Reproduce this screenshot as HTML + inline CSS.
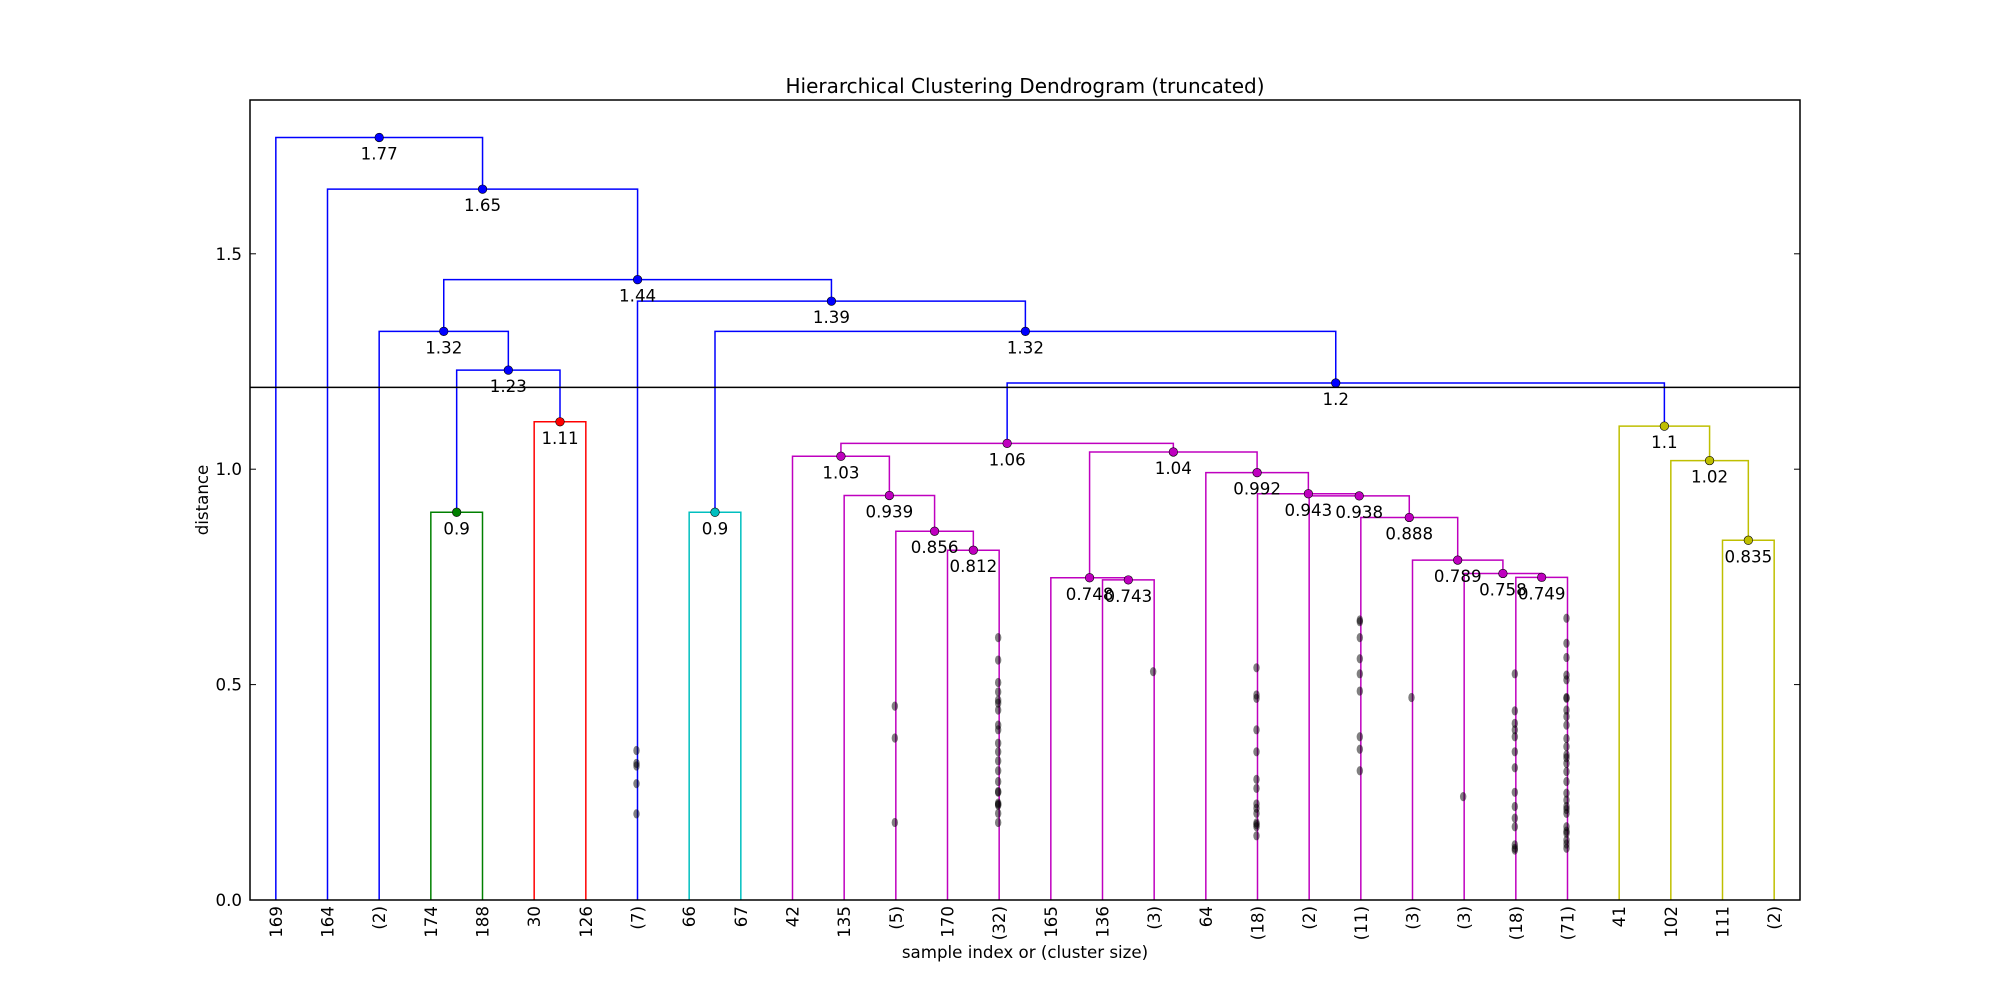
<!DOCTYPE html>
<html><head><meta charset="utf-8"><style>
html,body{margin:0;padding:0;background:#fff;}
svg{display:block;font-family:"DejaVu Sans","Liberation Sans",sans-serif;}
</style></head><body>
<svg id="chart" width="2000" height="1000" viewBox="0 0 2000 1000" xmlns="http://www.w3.org/2000/svg">
<rect width="2000" height="1000" fill="#fff"/>
<text x="1025" y="93" font-size="20" text-anchor="middle">Hierarchical Clustering Dendrogram (truncated)</text>
<text x="1025" y="958" font-size="16.67" text-anchor="middle">sample index or (cluster size)</text>
<text transform="translate(208,500) rotate(-90)" font-size="16.67" text-anchor="middle">distance</text>
<g id="links"></g><g id="contracted"></g><g id="nodes"></g><g id="labels"></g><g id="ticks"></g>
<line id="cut" x1="250" x2="1800" stroke="#000" stroke-width="1.5"/>
<rect x="250" y="100" width="1550" height="800" fill="none" stroke="#000" stroke-width="1.5"/>
</svg>
<script>
const leafLabels = ["169","164","(2)","174","188","30","126","(7)","66","67","42","135","(5)","170","(32)","165","136","(3)","64","(18)","(2)","(11)","(3)","(3)","(18)","(71)","41","102","111","(2)"];
const mergeLeft  = [3,5,30,2,8,13,12,11,10,16,15,24,23,22,21,20,19,18,40,38,28,27,26,49,34,7,33,1,0];
const mergeRight = [4,6,31,32,9,14,35,36,37,17,39,25,41,42,43,44,45,46,47,48,29,50,51,52,53,54,55,56,57];
const mergeHeight = [0.9,1.11,1.23,1.32,0.9,0.812,0.856,0.939,1.03,0.743,0.748,0.749,0.758,0.789,0.888,0.938,0.943,0.992,1.04,1.06,0.835,1.02,1.1,1.2,1.32,1.39,1.44,1.65,1.77];
const mergeColor = ["g","r","b","b","c","m","m","m","m","m","m","m","m","m","m","m","m","m","m","m","y","y","y","b","b","b","b","b","b"];
const cutHeight = 1.19;
const contractedLeaf = [7,12,14,17,19,21,22,23,24,25];
const contractedHeights = [
 [0.347,0.317,0.311,0.27,0.20],
 [0.45,0.376,0.18],
 [0.609,0.557,0.505,0.483,0.464,0.457,0.441,0.406,0.395,0.364,0.344,0.323,0.300,0.275,0.250,0.222,0.22,0.201,0.180,0.252,0.225],
 [0.530],
 [0.539,0.476,0.468,0.395,0.344,0.280,0.259,0.223,0.213,0.201,0.179,0.170,0.149,0.175],
 [0.650,0.646,0.609,0.560,0.525,0.485,0.379,0.350,0.300],
 [0.470],
 [0.240],
 [0.525,0.439,0.410,0.395,0.379,0.344,0.307,0.250,0.217,0.190,0.170,0.128,0.120,0.116],
 [0.654,0.596,0.563,0.522,0.511,0.468,0.441,0.426,0.406,0.375,0.356,0.337,0.317,0.298,0.275,0.248,0.232,0.217,0.201,0.170,0.155,0.139,0.120,0.47,0.33,0.21,0.16,0.13]
];
const yTicks = [0.0,0.5,1.0,1.5];

const NS="http://www.w3.org/2000/svg";
const L=250,R=1800,T=100,B=900,YMAX=1.857,XMAX=leafLabels.length*10;
const xs=v=>L+v/XMAX*(R-L);
const ys=v=>B-v/YMAX*(B-T);
const COL={b:"#0000ff",g:"#008000",r:"#ff0000",c:"#00bfbf",m:"#bf00bf",y:"#bfbf00"};
function mk(tag,attrs,parent){const e=document.createElementNS(NS,tag);for(const k in attrs)e.setAttribute(k,attrs[k]);document.getElementById(parent).appendChild(e);return e;}
const n=leafLabels.length;
const pos=[],ht=[];
for(let i=0;i<n;i++){pos[i]=10*i+5;ht[i]=0;}
for(let k=0;k<mergeHeight.length;k++){
  const a=mergeLeft[k],b=mergeRight[k],h=mergeHeight[k],id=n+k;
  pos[id]=(pos[a]+pos[b])/2;ht[id]=h;
  const c=COL[mergeColor[k]];
  const p=mk("polyline",{points:`${xs(pos[a])},${ys(ht[a])} ${xs(pos[a])},${ys(h)} ${xs(pos[b])},${ys(h)} ${xs(pos[b])},${ys(ht[b])}`,fill:"none",stroke:c,"stroke-width":1.5},"links");
  
  
  const d=mk("circle",{cx:xs(pos[id]),cy:ys(h),r:4.3,fill:c,stroke:"#000","stroke-width":0.6},"nodes");
  
  
  const t=mk("text",{x:xs(pos[id]),y:ys(h)+22,"font-size":16.67,"text-anchor":"middle"},"labels");
  t.textContent=String(h);
  
  
}
contractedLeaf.forEach((li,j)=>{
  contractedHeights[j].forEach(h=>{
    const e=mk("ellipse",{cx:xs(pos[li])-1,cy:ys(h),rx:3.2,ry:4.6,fill:"#000","fill-opacity":0.5},"contracted");
    
    
  });
});
for(let i=0;i<n;i++){
  const t=mk("text",{transform:`translate(${xs(pos[i])+6},906) rotate(-90)`,"font-size":16.67,"text-anchor":"end"},"ticks");
  t.textContent=leafLabels[i];
  
  
}
yTicks.forEach(v=>{
  const y=ys(v);
  const a=mk("line",{x1:L,x2:L+6,y1:y,y2:y,stroke:"#000","stroke-width":1},"ticks");
  
  
  const b=mk("line",{x1:R-6,x2:R,y1:y,y2:y,stroke:"#000","stroke-width":1},"ticks");
  
  
  const t=mk("text",{x:L-8,y:y+6,"font-size":16.67,"text-anchor":"end"},"ticks");
  t.textContent=v.toFixed(1);
  
  
});
const cut=document.getElementById("cut");cut.setAttribute("y1",ys(cutHeight));cut.setAttribute("y2",ys(cutHeight));
</script>
</body></html>
